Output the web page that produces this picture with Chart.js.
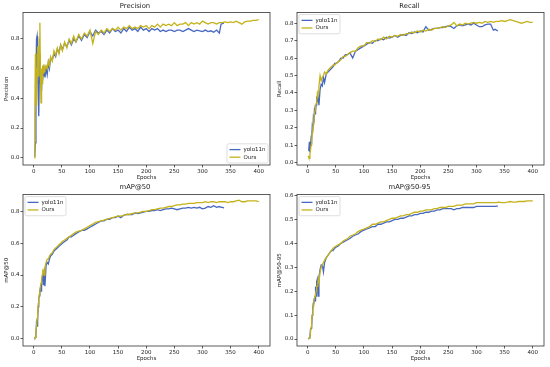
<!DOCTYPE html>
<html>
<head>
<meta charset="utf-8">
<script src="https://cdn.jsdelivr.net/npm/chart.js@4.4.1/dist/chart.umd.min.js"></script>
<style>
    html, body { margin: 0; padding: 0; background: #fff; }
    #fig { position: relative; width: 550px; height: 367px; }
    .painel { position: absolute; }
</style>
</head>
<body>
<div id="fig">
    <div class="painel" style="left:0;top:0;width:275px;height:183px"><canvas id="gPrecision"></canvas></div>
    <div class="painel" style="left:275px;top:0;width:275px;height:183px"><canvas id="gRecall"></canvas></div>
    <div class="painel" style="left:0;top:183px;width:275px;height:184px"><canvas id="gMap50"></canvas></div>
    <div class="painel" style="left:275px;top:183px;width:275px;height:184px"><canvas id="gMap5095"></canvas></div>
</div>
<script>
// epochs sampled for each run (yolo11n stops near 338, Ours runs to 400)
const yoloEpochs = [1,2,3,4,5,6,7,8,9,10,11,12,13,14,15,16,17,18,19,20,
    22,24,26,28,30,33,36,39,42,45,48,51,55,59,63,67,71,75,80,85,90,95,
    100,105,110,115,120,125,130,135,140,145,150,155,160,165,170,175,180,185,190,195,
    200,205,210,215,220,225,230,235,240,245,250,255,260,265,270,275,280,285,290,295,
    300,305,310,315,320,325,330,
    333,336,338];
const oursEpochs = [1,2,3,4,5,6,7,8,9,10,11,12,13,14,15,16,17,18,19,20,
    22,24,26,28,30,33,36,39,42,45,48,51,55,59,63,67,71,75,80,85,90,95,
    100,105,110,115,120,125,130,135,140,145,150,155,160,165,170,175,180,185,190,195,
    200,205,210,215,220,225,230,235,240,245,250,255,260,265,270,275,280,285,290,295,
    300,305,310,315,320,325,330,
    335,340,345,350,355,360,365,370,375,380,385,390,395,400];

const xTicks = [0, 50, 100, 150, 200, 250, 300, 350, 400];

// Precision
const precisionYolo = [0.01,0.02,0.1,0.5,0.8,0.82,0.6,0.45,0.28,0.55,0.7,0.5,0.6,0.45,0.58,0.52,0.62,0.55,0.6,0.54,
    0.6,0.56,0.64,0.6,0.67,0.66,0.7,0.68,0.73,0.71,0.76,0.73,0.77,0.75,0.79,0.76,0.8,0.78,0.82,0.79,0.83,0.81,
    0.85,0.82,0.86,0.84,0.85,0.83,0.86,0.84,0.87,0.85,
    0.86,0.84,0.87,0.85,0.88,0.86,0.87,0.85,0.88,0.86,
    0.87,0.85,0.87,0.86,0.87,0.85,0.86,0.85,0.86,0.86,
    0.85,0.86,0.86,0.85,0.86,0.87,0.86,0.85,0.86,0.855,
    0.85,0.86,0.85,0.855,0.845,0.86,0.84,
    0.9,0.905,0.905];
const precisionOurs = [0.0,0.3,0.7,0.45,0.35,0.6,0.75,0.55,0.62,0.8,0.91,0.55,0.37,0.6,0.5,0.62,0.57,0.63,0.58,0.6,
    0.62,0.6,0.65,0.62,0.68,0.65,0.72,0.69,0.74,0.7,0.76,0.72,0.78,0.74,0.8,0.77,0.82,0.78,0.83,0.8,0.84,0.82,
    0.86,0.77,0.85,0.83,0.86,0.84,0.87,0.85,0.87,0.86,
    0.88,0.86,0.88,0.87,0.89,0.87,0.88,0.87,0.89,0.88,
    0.89,0.87,0.89,0.88,0.9,0.88,0.9,0.89,0.9,0.89,
    0.91,0.89,0.9,0.9,0.91,0.89,0.91,0.9,0.91,0.9,
    0.92,0.91,0.9,0.91,0.91,0.9,0.91,
    0.91,0.915,0.91,0.915,0.91,0.92,0.91,0.9,0.915,0.92,0.92,0.925,0.925,0.93];
const precisionTicks = [0.0, 0.2, 0.4, 0.6, 0.8];

// Recall
const recallYolo = [0.07,0.08,0.12,0.06,0.1,0.14,0.13,0.2,0.18,0.25,0.23,0.3,0.28,0.3,0.33,0.38,0.35,0.39,0.36,0.33,
    0.42,0.45,0.44,0.49,0.46,0.51,0.52,0.53,0.54,0.55,0.57,0.57,0.58,0.6,0.6,0.62,0.62,0.63,0.6,0.64,0.65,0.66,
    0.67,0.68,0.69,0.685,0.7,0.7,0.71,0.705,0.72,0.715,
    0.72,0.73,0.72,0.73,0.735,0.73,0.745,0.74,0.75,0.745,
    0.755,0.75,0.78,0.76,0.765,0.77,0.77,0.775,0.775,0.78,
    0.785,0.78,0.77,0.785,0.79,0.785,0.79,0.795,0.79,0.8,
    0.79,0.78,0.78,0.79,0.795,0.795,0.76,
    0.765,0.76,0.755];
const recallOurs = [0.04,0.03,0.025,0.05,0.07,0.1,0.12,0.17,0.2,0.22,0.26,0.28,0.3,0.32,0.34,0.35,0.39,0.37,0.41,0.44,
    0.5,0.47,0.49,0.5,0.52,0.51,0.53,0.54,0.55,0.56,0.56,0.57,0.58,0.59,0.61,0.61,0.62,0.63,0.64,0.64,0.66,0.67,
    0.67,0.69,0.685,0.7,0.695,0.71,0.705,0.72,0.71,0.725,
    0.72,0.73,0.725,0.735,0.73,0.74,0.74,0.75,0.745,0.755,
    0.75,0.76,0.755,0.765,0.76,0.77,0.77,0.775,0.78,0.775,
    0.785,0.79,0.805,0.785,0.795,0.79,0.8,0.795,0.8,0.805,
    0.8,0.805,0.8,0.81,0.805,0.81,0.805,
    0.81,0.81,0.815,0.81,0.815,0.82,0.815,0.81,0.805,0.8,0.805,0.81,0.805,0.805];
const recallTicks = [0.0, 0.1, 0.2, 0.3, 0.4, 0.5, 0.6, 0.7, 0.8];

// mAP@50
const map50Yolo = [0.0,0.005,0.01,0.03,0.1,0.08,0.12,0.2,0.25,0.27,0.3,0.32,0.3,0.36,0.38,0.4,0.34,0.42,0.43,0.33,
    0.46,0.48,0.47,0.5,0.52,0.53,0.55,0.56,0.57,0.58,0.59,0.6,0.61,0.62,0.64,0.64,0.65,0.66,0.67,0.68,0.68,0.69,
    0.7,0.71,0.72,0.73,0.74,0.74,0.75,0.75,0.76,0.76,
    0.77,0.76,0.775,0.78,0.78,0.78,0.79,0.785,0.79,0.795,
    0.8,0.8,0.805,0.805,0.81,0.805,0.81,0.815,0.815,0.82,
    0.815,0.81,0.815,0.82,0.82,0.825,0.82,0.825,0.82,0.825,
    0.815,0.82,0.83,0.825,0.835,0.825,0.83,
    0.825,0.825,0.82];
const map50Ours = [0.0,0.0,0.01,0.05,0.08,0.12,0.15,0.22,0.25,0.28,0.3,0.33,0.35,0.37,0.4,0.42,0.41,0.44,0.4,0.45,
    0.48,0.5,0.5,0.52,0.53,0.54,0.56,0.57,0.58,0.59,0.6,0.61,0.62,0.63,0.64,0.65,0.66,0.67,0.675,0.68,0.69,0.7,
    0.71,0.72,0.73,0.735,0.74,0.745,0.75,0.755,0.76,0.765,
    0.77,0.77,0.775,0.78,0.78,0.785,0.79,0.79,0.795,0.8,
    0.8,0.805,0.81,0.81,0.815,0.82,0.82,0.825,0.83,0.83,
    0.835,0.84,0.84,0.845,0.845,0.85,0.85,0.85,0.855,0.855,
    0.855,0.86,0.855,0.86,0.86,0.855,0.86,
    0.86,0.86,0.855,0.86,0.86,0.865,0.87,0.86,0.86,0.865,0.865,0.865,0.865,0.86];
const map50Ticks = [0.0, 0.2, 0.4, 0.6, 0.8];

// mAP@50-95
const map5095Yolo = [0.0,0.0,0.005,0.01,0.04,0.045,0.05,0.1,0.13,0.15,0.16,0.17,0.16,0.22,0.18,0.24,0.25,0.25,0.18,0.26,
    0.29,0.31,0.31,0.28,0.32,0.34,0.35,0.36,0.37,0.37,0.38,0.385,0.39,0.4,0.405,0.41,0.415,0.42,0.43,0.435,0.44,0.45,
    0.455,0.46,0.465,0.47,0.47,0.48,0.48,0.485,0.49,0.49,
    0.495,0.5,0.5,0.505,0.505,0.51,0.515,0.515,0.52,0.52,
    0.525,0.525,0.53,0.53,0.535,0.535,0.54,0.54,0.545,0.545,
    0.545,0.545,0.54,0.545,0.545,0.55,0.55,0.55,0.55,0.55,
    0.555,0.555,0.555,0.555,0.555,0.555,0.555,
    0.555,0.556,0.556];
const map5095Ours = [0.0,0.0,0.005,0.01,0.03,0.05,0.08,0.1,0.12,0.14,0.16,0.17,0.18,0.19,0.2,0.22,0.22,0.24,0.25,0.24,
    0.28,0.3,0.31,0.32,0.33,0.34,0.35,0.36,0.37,0.38,0.385,0.39,0.395,0.4,0.41,0.415,0.42,0.43,0.435,0.44,0.45,0.455,
    0.46,0.465,0.47,0.48,0.48,0.485,0.49,0.49,0.495,0.5,
    0.505,0.505,0.51,0.515,0.515,0.52,0.52,0.525,0.53,0.53,
    0.535,0.535,0.54,0.54,0.54,0.545,0.545,0.55,0.55,0.55,
    0.555,0.555,0.555,0.56,0.56,0.56,0.565,0.565,0.565,0.565,
    0.57,0.57,0.57,0.57,0.57,0.57,0.57,
    0.57,0.572,0.57,0.57,0.572,0.575,0.572,0.572,0.575,0.575,0.575,0.578,0.578,0.578];
const map5095Ticks = [0.0, 0.1, 0.2, 0.3, 0.4, 0.5, 0.6];

const COR_YOLO = '#4768c0';
const COR_OURS = '#c4b21a';
const FONTE = '"DejaVu Sans", sans-serif';

/**
 * Full box around the plot area (matplotlib spines)
 */
const moldura = {
    id: 'moldura',
    afterDatasetsDraw(chart) {
        const { ctx, chartArea: a } = chart;
        ctx.save();
        ctx.strokeStyle = '#333';
        ctx.lineWidth = 0.8;
        ctx.strokeRect(a.left, a.top, a.width, a.height);
        ctx.restore();
    }
};

/**
 * Legend drawn inside the plot area, in one corner
 */
const legendaCanto = {
    id: 'legendaCanto',
    afterDraw(chart, args, opts) {
        const { ctx, chartArea: a } = chart;
        const itens = chart.data.datasets;
        ctx.save();
        ctx.font = '5.5px ' + FONTE;
        const textoW = Math.max(...itens.map(d => ctx.measureText(d.label).width));
        const w = 2.5 + 11 + 3 + textoW + 2.5;
        const h = 4 + 7.6 * itens.length;
        const x = opts.pos === 'lr' ? a.right - 2 - w : a.left + 2;
        const y = opts.pos === 'lr' ? a.bottom - 2 - h : a.top + 2;

        ctx.beginPath();
        ctx.roundRect(x, y, w, h, 1.5);
        ctx.fillStyle = 'rgba(255,255,255,0.8)';
        ctx.fill();
        ctx.strokeStyle = '#d6d6d6';
        ctx.lineWidth = 0.8;
        ctx.stroke();

        itens.forEach((d, i) => {
            const cy = y + 5.8 + i * 7.6;
            ctx.beginPath();
            ctx.moveTo(x + 2.5, cy);
            ctx.lineTo(x + 13.5, cy);
            ctx.strokeStyle = d.borderColor;
            ctx.lineWidth = 1.3;
            ctx.stroke();
            ctx.fillStyle = '#222';
            ctx.textBaseline = 'middle';
            ctx.fillText(d.label, x + 16.5, cy);
        });
        ctx.restore();
    }
};

function pontos(epochs, valores) {
    return epochs.map((e, i) => ({ x: e, y: valores[i] }));
}

/**
 * Creates one training-curve panel
 */
function criarPainel(cfg) {
    const ctx = document.getElementById(cfg.id);
    const topo = cfg.linha === 0;
    const esquerda = cfg.coluna === 0;

    return new Chart(ctx, {
        type: 'line',
        data: {
            datasets: [
                {
                    label: 'yolo11n',
                    data: pontos(yoloEpochs, cfg.yolo),
                    borderColor: COR_YOLO,
                    borderWidth: 1.3,
                    pointRadius: 0,
                    tension: 0,
                    order: 1
                },
                {
                    label: 'Ours',
                    data: pontos(oursEpochs, cfg.ours),
                    borderColor: COR_OURS,
                    borderWidth: 1.3,
                    pointRadius: 0,
                    tension: 0,
                    order: 0
                }
            ]
        },
        options: {
            responsive: true,
            maintainAspectRatio: false,
            animation: false,
            layout: { padding: { left: 0, top: 0, bottom: 0, right: esquerda ? 5 : 6 } },
            plugins: {
                legend: { display: false },
                tooltip: { enabled: false },
                title: {
                    display: true,
                    text: cfg.titulo,
                    color: '#222',
                    font: { family: FONTE, size: 6.8, weight: 'normal' },
                    padding: topo ? { top: 2.6, bottom: 1.8 } : { top: 0.6, bottom: 2.8 }
                },
                legendaCanto: { pos: cfg.legenda }
            },
            scales: {
                x: {
                    type: 'linear',
                    min: -19,
                    max: 420,
                    afterBuildTicks: s => { s.ticks = xTicks.map(v => ({ value: v })); },
                    afterFit: s => { s.height = topo ? 18 : 21; },
                    border: { display: false },
                    grid: { drawOnChartArea: false, drawTicks: true, tickLength: 2.5, color: '#333', lineWidth: 0.8 },
                    ticks: { color: '#222', font: { family: FONTE, size: 5.5 }, padding: 1, maxRotation: 0 },
                    title: {
                        display: true,
                        text: 'Epochs',
                        color: '#222',
                        font: { family: FONTE, size: 5.5 },
                        padding: { top: 0, bottom: topo ? 2.4 : 5 }
                    }
                },
                y: {
                    min: cfg.yMin,
                    max: cfg.yMax,
                    afterBuildTicks: s => { s.ticks = cfg.ticks.map(v => ({ value: v })); },
                    afterFit: s => { s.width = esquerda ? 23 : 22; },
                    border: { display: false },
                    grid: { drawOnChartArea: false, drawTicks: true, tickLength: 2.5, color: '#333', lineWidth: 0.8 },
                    ticks: {
                        color: '#222',
                        font: { family: FONTE, size: 5.5 },
                        padding: 1,
                        callback: v => v.toFixed(1)
                    },
                    title: {
                        display: true,
                        text: cfg.eixoY,
                        color: '#222',
                        font: { family: FONTE, size: 5.5 },
                        padding: { top: esquerda ? 3 : 1.2, bottom: 0 }
                    }
                }
            }
        },
        plugins: [moldura, legendaCanto]
    });
}

criarPainel({ id: 'gPrecision', titulo: 'Precision', eixoY: 'Precision', linha: 0, coluna: 0,
    yolo: precisionYolo, ours: precisionOurs, yMin: -0.049, yMax: 0.978, ticks: precisionTicks, legenda: 'lr' });
criarPainel({ id: 'gRecall', titulo: 'Recall', eixoY: 'Recall', linha: 0, coluna: 1,
    yolo: recallYolo, ours: recallOurs, yMin: -0.013, yMax: 0.861, ticks: recallTicks, legenda: 'ul' });
criarPainel({ id: 'gMap50', titulo: 'mAP@50', eixoY: 'mAP@50', linha: 1, coluna: 0,
    yolo: map50Yolo, ours: map50Ours, yMin: -0.045, yMax: 0.905, ticks: map50Ticks, legenda: 'ul' });
criarPainel({ id: 'gMap5095', titulo: 'mAP@50-95', eixoY: 'mAP@50-95', linha: 1, coluna: 1,
    yolo: map5095Yolo, ours: map5095Ours, yMin: -0.029, yMax: 0.604, ticks: map5095Ticks, legenda: 'ul' });
</script>
</body>
</html>
